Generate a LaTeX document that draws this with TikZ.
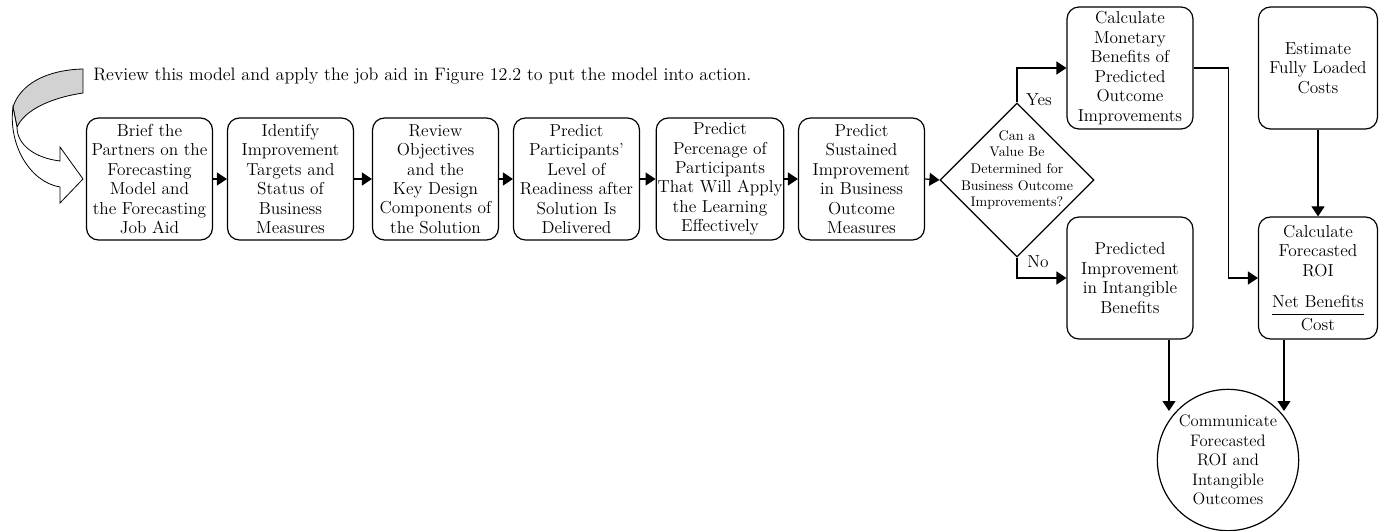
\documentclass[tikz,border=0pt]{standalone}
\usetikzlibrary{arrows.meta,shapes.geometric}
\begin{document}
\begin{tikzpicture}[x=0.75pt,y=-0.75pt,
  stepbox/.style={draw,line width=0.9pt,rounded corners=9pt,minimum width=94.5pt,
    minimum height=91.5pt,inner sep=1pt,align=center,font=\fontsize{13}{14.6}\selectfont},
  narrowbox/.style={stepbox,minimum width=89.25pt},
  arr/.style={line width=0.9pt,-{Triangle[length=7.5pt,width=9.75pt]}},
  lbl/.style={inner sep=1pt,font=\fontsize{13}{14.6}\selectfont}]
\useasboundingbox (0,0) rectangle (1379,531);

% curved entry arrow
\filldraw[fill=gray!35,line width=0.6pt] (83,69) .. controls (45,70) and (20,85) .. (13,107)
  -- (17,127) .. controls (25,110) and (50,98) .. (83,93) -- cycle;
\filldraw[fill=white,line width=0.6pt] (13,107) .. controls (8,145) and (30,182) .. (60,187)
  -- (60,203) -- (83,179) -- (60,147) -- (60,161)
  .. controls (35,158) and (17,145) .. (17,127) -- cycle;

\node[anchor=base west,inner sep=0,font=\fontsize{13.5}{15}\selectfont] (intro) at (93,81)
  {Review this model and apply the job aid in Figure 12.2 to put the model into action.};

% main sequence
\node[stepbox] (b1) at (149.5,179) {Brief the\\Partners on the\\Forecasting\\Model and\\the Forecasting\\Job Aid};
\node[stepbox] (b2) at (290.5,179) {Identify\\Improvement\\Targets and\\Status of\\Business\\Measures};
\node[stepbox] (b3) at (435.5,179) {Review\\Objectives\\and the\\Key Design\\Components of\\the Solution};
\node[stepbox] (b4) at (576.5,179) {Predict\\Participants'\\Level of\\Readiness after\\Solution Is\\Delivered};
\node[stepbox] (b5) at (720,179) {Predict\\Percenage of\\Participants\\That Will Apply\\the Learning\\Effectively};
\node[stepbox] (b6) at (861.5,179) {Predict\\Sustained\\Improvement\\in Business\\Outcome\\Measures};

% decision
\node[draw,diamond,minimum width=115.5pt,minimum height=115.5pt,inner sep=0,line width=0.9pt] (dia) at (1017,180) {};
\node[align=center,inner sep=0,font=\fontsize{10.5}{12.5}\selectfont] (diatext) at (1017,170)
  {Can a\\Value Be\\Determined for\\Business Outcome\\Improvements?};

\node[stepbox] (mon) at (1130,68) {Calculate\\Monetary\\Benefits of\\Predicted\\Outcome\\Improvements};
\node[stepbox] (impr) at (1130,278) {Predicted\\Improvement\\in Intangible\\Benefits};
\node[narrowbox] (est) at (1318,68) {Estimate\\Fully Loaded\\Costs};
\node[narrowbox] (roi) at (1318,278) {Calculate\\Forecasted\\ROI\\[13pt]
  $\displaystyle{\mbox{Net Benefits}\above0.9pt\mbox{Cost}}$};
\node[draw,circle,minimum size=106pt,inner sep=0,line width=0.9pt,align=center,
  font=\fontsize{12.5}{14.6}\selectfont] (comm) at (1228,460)
  {Communicate\\Forecasted\\ROI and\\Intangible\\Outcomes};

\node[lbl] (yes) at (1039,100) {Yes};
\node[lbl] (no) at (1038,262) {No};

% connectors
\draw[arr] (b1) -- (b2);
\draw[arr] (b2) -- (b3);
\draw[arr] (b3) -- (b4);
\draw[arr] (b4) -- (b5);
\draw[arr] (b5) -- (b6);
\draw[arr] (b6.east) -- (dia.west);
\draw[arr] (dia.north) |- (mon.west);
\draw[arr] (dia.south) |- (impr.west);
\draw[arr] (mon.east) -- ++(35,0) |- (roi.west);
\draw[arr] (est) -- (roi);
\coordinate (c1) at (1169,411);
\coordinate (c2) at (1284,411);
\draw[arr] (impr.south -| c1) -- (c1);
\draw[arr] (roi.south -| c2) -- (c2);
\end{tikzpicture}
\end{document}
